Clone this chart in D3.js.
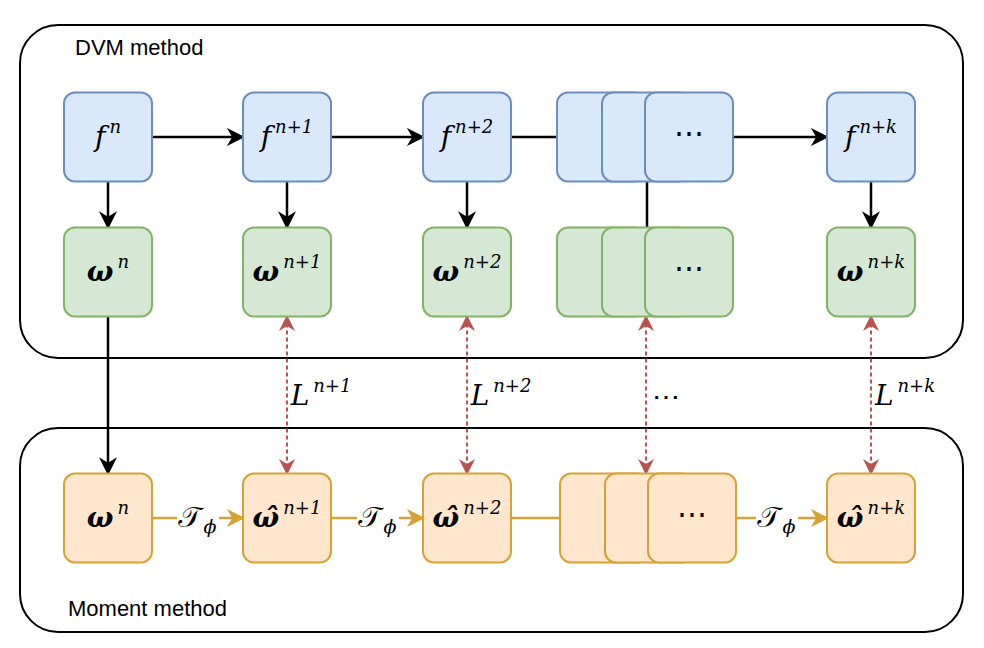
<!DOCTYPE html>
<html><head><meta charset="utf-8">
<script src="https://cdn.jsdelivr.net/npm/d3@7"></script>
<style>body{margin:0;background:#fff}</style>
</head><body>
<svg id="c" width="984" height="648"></svg>
<script>
// column centres (x) of the single boxes, and the stacked "..." group
const singleCols = [108, 287, 467, 871];
const stackCols = [601, 646, 689];
const fSups = ["n", "n+1", "n+2", "n+k"];
const lossSups = ["n+1", "n+2", "…", "n+k"];
const panels = [
  {name: "DVM method", y0: 25, y1: 358, lx: 75, ly: 55},
  {name: "Moment method", y0: 428, y1: 632, lx: 68, ly: 616}
];

const svg = d3.select("#c");
const BW = 88, BH = 89;
const rows = {f: 137, w: 272, m: 518};
const colors = {
  f: ["#dae8fc", "#6c8ebf"],
  w: ["#d5e8d4", "#82b366"],
  m: ["#ffe6cc", "#d6a236"]
};

const defs = svg.append("defs");
function marker(id, color, w) {
  defs.append("marker").attr("id", id).attr("viewBox", "0 0 10 10")
    .attr("refX", 9).attr("refY", 5).attr("markerWidth", w).attr("markerHeight", w)
    .attr("orient", "auto-start-reverse").attr("markerUnits", "userSpaceOnUse")
    .append("path").attr("d", "M0,0 L10,5 L0,10 L3,5 Z").attr("fill", color);
}
marker("blk", "#000", 18);
marker("org", "#d6a236", 18);
marker("red", "#b85450", 16);

panels.forEach(p => {
  svg.append("rect").attr("x", 20).attr("y", p.y0).attr("width", 943).attr("height", p.y1 - p.y0)
    .attr("rx", 38).attr("fill", "none").attr("stroke", "#000").attr("stroke-width", 2);
  svg.append("text").attr("x", p.lx).attr("y", p.ly).text(p.name)
    .attr("font-family", "Liberation Sans, Arial").attr("font-size", 22);
});

function line(x1, y1, x2, y2, color, mk, dash, both) {
  const l = svg.append("line").attr("x1", x1).attr("y1", y1).attr("x2", x2).attr("y2", y2)
    .attr("stroke", color).attr("stroke-width", dash ? 2 : 2.5);
  if (mk) l.attr("marker-end", `url(#${mk})`);
  if (both) l.attr("marker-start", `url(#${mk})`);
  if (dash) l.attr("stroke-dasharray", dash);
}

// f row
line(152, rows.f, 243, rows.f, "#000", "blk");
line(331, rows.f, 423, rows.f, "#000", "blk");
line(511, rows.f, 560, rows.f, "#000");
line(733, rows.f, 827, rows.f, "#000", "blk");
// f -> w
singleCols.forEach(x => line(x, rows.f + BH / 2, x, rows.w - BH / 2, "#000", "blk"));
line(647, rows.f + BH / 2, 647, rows.w - BH / 2, "#000");
// w^n -> moment w^n
line(108, rows.w + BH / 2, 108, rows.m - BH / 2, "#000", "blk");
// moment row
line(152, rows.m, 243, rows.m, "#d6a236", "org");
line(331, rows.m, 423, rows.m, "#d6a236", "org");
line(511, rows.m, 562, rows.m, "#d6a236");
line(735, rows.m, 827, rows.m, "#d6a236", "org");
// dashed loss arrows
[287, 467, 646, 871].forEach(x =>
  line(x, rows.w + BH / 2, x, rows.m - BH / 2, "#b85450", "red", "4,3", true));

function box(cx, cy, kind) {
  svg.append("rect").attr("x", cx - BW / 2).attr("y", cy - BH / 2).attr("width", BW).attr("height", BH)
    .attr("rx", 11).attr("fill", colors[kind][0]).attr("stroke", colors[kind][1]).attr("stroke-width", 2);
}
function mathText(x, y, base, sup, opts = {}) {
  const t = svg.append("text").attr("x", x).attr("y", y).attr("text-anchor", "middle")
    .attr("font-family", "DejaVu Serif, serif").attr("font-size", 28);
  t.append("tspan").text(base).attr("font-style", "italic").attr("font-weight", opts.bold ? "bold" : null);
  if (sup) {
    const s = t.append("tspan").attr("dy", -13).attr("dx", 4).attr("font-size", 18);
    sup.split(/(\+)/).forEach(part => {
      s.append("tspan").text(part).attr("font-style", part === "+" ? null : "italic");
    });
  }
  return t;
}

const mRow = [
  {cx: 108, sup: "n", base: "ω"},
  {cx: 287, sup: "n+1", base: "ω̂"},
  {cx: 467, sup: "n+2", base: "ω̂"},
  {cx: 871, sup: "n+k", base: "ω̂"}
];
singleCols.forEach((x, i) => {
  box(x, rows.f, "f"); mathText(x, rows.f + 9, "f", fSups[i]);
  box(x, rows.w, "w"); mathText(x, rows.w + 9, "ω", fSups[i], {bold: true});
});
stackCols.forEach(x => { box(x, rows.f, "f"); box(x, rows.w, "w"); });
[604, 649, 692].forEach(x => box(x, rows.m, "m"));
mRow.forEach(d => { box(d.cx, rows.m, "m"); mathText(d.cx, rows.m + 9, d.base, d.sup, {bold: true}); });
[[689, rows.f], [689, rows.w], [692, rows.m]].forEach(([x, y]) =>
  svg.append("text").attr("x", x).attr("y", y + 6).attr("text-anchor", "middle")
    .attr("font-family", "DejaVu Serif, serif").attr("font-size", 30).text("⋯"));

// loss labels
[287, 467, 646, 871].forEach((x, i) => {
  if (lossSups[i] === "…") {
    svg.append("text").attr("x", 666).attr("y", 406).attr("text-anchor", "middle")
      .attr("font-family", "DejaVu Serif, serif").attr("font-size", 28).text("⋯");
  } else {
    mathText(x + 34, 405, "L", lossSups[i]);
  }
});

// T_phi labels
[197, 377, 776].forEach(x => {
  svg.append("rect").attr("x", x - 20).attr("y", rows.m - 22).attr("width", 42).attr("height", 42).attr("fill", "#fff");
  const t = svg.append("text").attr("x", x).attr("y", rows.m + 9).attr("text-anchor", "middle")
    .attr("font-family", "DejaVu Serif, serif").attr("font-size", 28);
  t.append("tspan").text("𝒯").attr("font-family", "Noto Sans Math, DejaVu Serif, serif");
  t.append("tspan").text("ϕ").attr("font-size", 19).attr("dy", 6).attr("font-style", "italic");
});
</script>
</body></html>
